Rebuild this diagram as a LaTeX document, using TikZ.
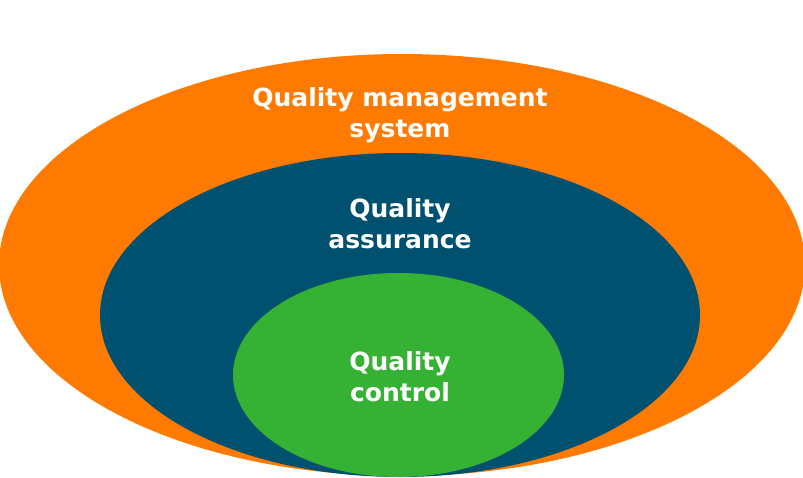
\documentclass[tikz,border=0pt]{standalone}
\usepackage{fontspec}
\setmainfont{DejaVu Sans}
\usetikzlibrary{shapes.geometric}
\definecolor{qmsorange}{RGB}{255,122,0}
\definecolor{qablue}{RGB}{0,81,112}
\definecolor{qcgreen}{RGB}{53,178,52}
\tikzset{
  ring/.style={ellipse, inner sep=0pt, draw=none},
  label text/.style={text=white, font=\fontsize{25}{31}\selectfont\bfseries, align=center, inner sep=0pt},
}
\begin{document}
\begin{tikzpicture}[x=1pt,y=-1pt]
\useasboundingbox[fill=white] (0,0) rectangle (803,478);
\node[ring, fill=qmsorange, minimum width=806pt, minimum height=422pt] (qms) at (402,265) {};
\node[ring, fill=qablue, minimum width=600pt, minimum height=324pt] (qa) at (400,315) {};
\node[ring, fill=qcgreen, minimum width=331pt, minimum height=204pt] (qc) at (398.5,375) {};
\node[label text] (tqms) at (400,115) {Quality management\\system};
\node[label text] (tqa) at (400,224) {Quality\\assurance};
\node[label text] (tqc) at (400,377) {Quality\\control};
\end{tikzpicture}
\end{document}
